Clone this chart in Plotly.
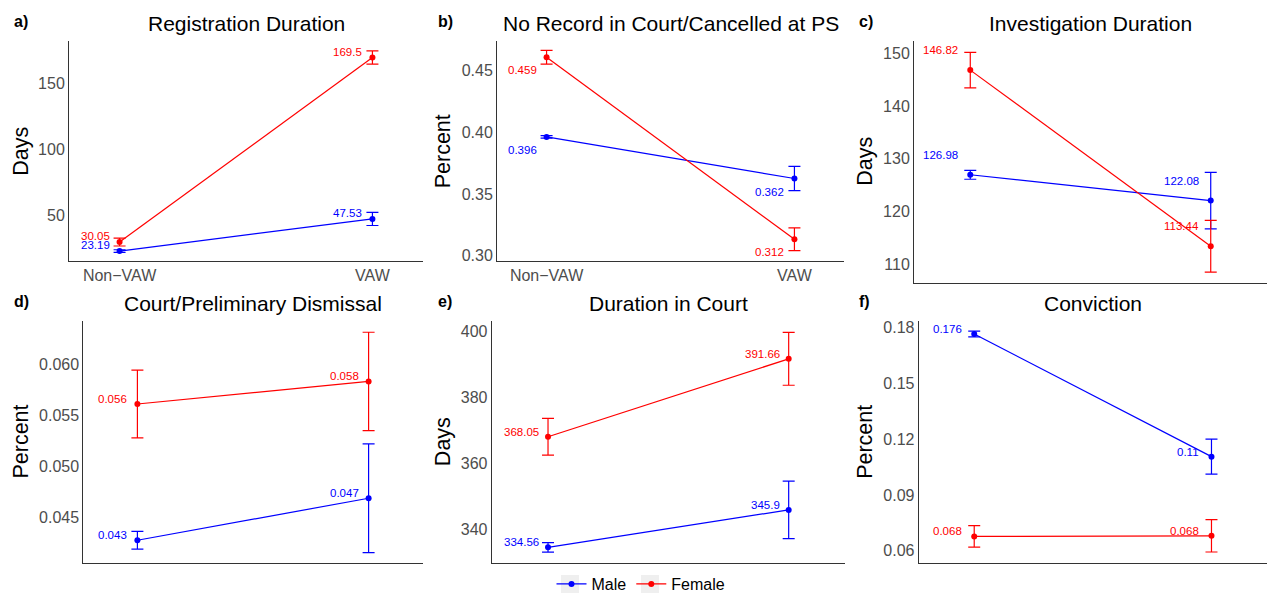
import plotly.graph_objects as go

# ---------------- data ----------------
categories = [1, 2]
category_labels = ["Non\u2212VAW", "VAW"]
series_names = ["Male", "Female"]

panel_ids = ["a", "b", "c", "d", "e", "f"]
panel_titles = ["Registration Duration", "No Record in Court/Cancelled at PS",
                "Investigation Duration", "Court/Preliminary Dismissal",
                "Duration in Court", "Conviction"]
panel_ylabels = ["Days", "Percent", "Days", "Percent", "Days", "Percent"]

male_mean = {
    "a": [23.19, 47.53], "b": [0.3963, 0.3626], "c": [126.98, 122.08],
    "d": [0.0428, 0.0469], "e": [334.56, 345.9], "f": [0.1766, 0.1106],
}
male_err = {
    "a": [1.0, 5.0], "b": [0.001, 0.0099], "c": [0.85, 5.35],
    "d": [0.00087, 0.0053], "e": [1.45, 8.7], "f": [0.0015, 0.0094],
}
male_labels = {
    "a": ["23.19", "47.53"], "b": ["0.396", "0.362"], "c": ["126.98", "122.08"],
    "d": ["0.043", "0.047"], "e": ["334.56", "345.9"], "f": ["0.176", "0.11"],
}
female_mean = {
    "a": [30.05, 169.5], "b": [0.4609, 0.3133], "c": [146.82, 113.44],
    "d": [0.0561, 0.0583], "e": [368.05, 391.66], "f": [0.0677, 0.068],
}
female_err = {
    "a": [3.0, 5.0], "b": [0.0056, 0.0092], "c": [3.35, 4.9],
    "d": [0.0033, 0.0048], "e": [5.55, 8.0], "f": [0.0058, 0.0087],
}
female_labels = {
    "a": ["30.05", "169.5"], "b": ["0.459", "0.312"], "c": ["146.82", "113.44"],
    "d": ["0.056", "0.058"], "e": ["368.05", "391.66"], "f": ["0.068", "0.068"],
}

y_ticks = {
    "a": [50, 100, 150],
    "b": [0.30, 0.35, 0.40, 0.45],
    "c": [110, 120, 130, 140, 150],
    "d": [0.045, 0.050, 0.055, 0.060],
    "e": [340, 360, 380, 400],
    "f": [0.06, 0.09, 0.12, 0.15, 0.18],
}
y_tickformat = {"a": "d", "b": ".2f", "c": "d", "d": ".3f", "e": "d", "f": ".2f"}

# ---------------- layout geometry (pixels) ----------------
W, H = 1267, 611
def fx(x): return x / W
def fy(y): return 1 - y / H

# left, top, right, bottom of each plot area
boxes = {
    "a": (69, 41, 423, 261), "b": (497, 41, 844, 261), "c": (914, 41, 1267, 282.7),
    "d": (83.3, 321, 422.7, 562.7), "e": (491.7, 321, 845, 562.7), "f": (918.7, 321, 1267, 562.7),
}
x_ranges = {"a": [0.8, 2.2], "b": [0.8, 2.2], "c": [0.766, 2.234],
            "d": [0.766, 2.234], "e": [0.766, 2.234], "f": [0.766, 2.234]}
y_ranges = {"a": [15.7, 182.0], "b": [0.2957, 0.4741], "c": [106.52, 152.34],
            "d": [0.04061, 0.0642], "e": [329.9, 403.13], "f": [0.05354, 0.18359]}
label_yshift = {"a": 6, "b": -13, "c": 20, "d": 5, "e": 5, "f": 5}
label_xshift = {"a": -8, "b": -8, "c": -10, "d": -8, "e": -7, "f": -10}
ytitle_x = {"a": 20.7, "b": 443.3, "c": 865, "d": 20.7, "e": 443.3, "f": 865}
letter_x = {"a": 12, "b": 436, "c": 857, "d": 12, "e": 436, "f": 857}

FONT = "Liberation Sans, Arial, Helvetica, sans-serif"
colors = {"Male": "#0000FF", "Female": "#FF0000"}

fig = go.Figure()
annotations = []
layout = {}

for i, p in enumerate(panel_ids):
    n = "" if i == 0 else str(i + 1)
    xa, ya = "x" + n, "y" + n
    L, T, R, B = boxes[p]
    series = [
        ("Male", male_mean[p], male_err[p], male_labels[p]),
        ("Female", female_mean[p], female_err[p], female_labels[p]),
    ]
    for name, mean, err, labs in series:
        c = colors[name]
        fig.add_trace(go.Scatter(
            x=categories, y=mean, mode="lines+markers", name=name,
            legendgroup=name, showlegend=(i == 0),
            line=dict(color=c, width=1.2),
            marker=dict(color=c, size=6),
            error_y=dict(type="data", array=err, visible=True, color=c,
                         thickness=1.2, width=6),
            xaxis=xa, yaxis=ya, cliponaxis=False,
        ))
        for xv, yv, t in zip(categories, mean, labs):
            annotations.append(dict(
                x=xv, y=yv, xref=xa, yref=ya, text=t, showarrow=False,
                xanchor="right", yanchor="middle",
                xshift=label_xshift[p], yshift=label_yshift[p],
                font=dict(family=FONT, size=11.5, color=c),
            ))
    layout["xaxis" + n] = dict(
        domain=[fx(L), fx(R)], range=x_ranges[p], anchor=ya,
        tickvals=categories, ticktext=category_labels,
        showticklabels=(p in ("a", "b")),
        showline=True, linecolor="#333333", linewidth=1,
        showgrid=False, zeroline=False, ticks="", automargin=False,
        tickfont=dict(family=FONT, size=16, color="#4d4d4d"),
        fixedrange=True,
    )
    layout["yaxis" + n] = dict(
        domain=[fy(B), fy(T)], range=y_ranges[p], anchor=xa,
        tickvals=y_ticks[p], tickformat=y_tickformat[p],
        showline=True, linecolor="#333333", linewidth=1,
        showgrid=False, zeroline=False, ticks="", automargin=False,
        tickfont=dict(family=FONT, size=16, color="#4d4d4d"),
        fixedrange=True,
    )
    # panel title
    title_y = 23 if i < 3 else 303
    annotations.append(dict(
        x=fx((L + R) / 2), y=fy(title_y), xref="paper", yref="paper",
        text=panel_titles[i], showarrow=False, xanchor="center", yanchor="middle",
        font=dict(family=FONT, size=21, color="black"),
    ))
    # panel letter
    annotations.append(dict(
        x=fx(letter_x[p]), y=fy(title_y - 1), xref="paper", yref="paper",
        text="<b>" + p + ")</b>", showarrow=False, xanchor="left", yanchor="middle",
        font=dict(family=FONT, size=16, color="black"),
    ))
    # y-axis title
    annotations.append(dict(
        x=fx(ytitle_x[p]), y=fy((T + B) / 2), xref="paper", yref="paper",
        text=panel_ylabels[i], showarrow=False, textangle=-90,
        xanchor="center", yanchor="middle",
        font=dict(family=FONT, size=21.5, color="black"),
    ))

# light grey legend key backgrounds (ggplot style)
shapes = [
    dict(type="rect", xref="paper", yref="paper", layer="below",
         x0=fx(561), x1=fx(579), y0=fy(593), y1=fy(575),
         fillcolor="#EFEFEF", line=dict(width=0)),
    dict(type="rect", xref="paper", yref="paper", layer="below",
         x0=fx(641), x1=fx(659), y0=fy(593), y1=fy(575),
         fillcolor="#EFEFEF", line=dict(width=0)),
]

fig.update_layout(
    width=W, height=H,
    margin=dict(l=0, r=0, t=0, b=0, autoexpand=False),
    paper_bgcolor="white", plot_bgcolor="white",
    annotations=annotations, shapes=shapes,
    legend=dict(orientation="h", x=fx(641), xanchor="center",
                y=fy(584), yanchor="middle",
                font=dict(family=FONT, size=16, color="black"),
                itemwidth=30, bgcolor="rgba(0,0,0,0)"),
    **layout,
)

fig.write_html("out.html",
               config={"displayModeBar": False},
               post_script="document.body.style.margin='0px';"
                           "document.body.style.overflow='hidden';")
